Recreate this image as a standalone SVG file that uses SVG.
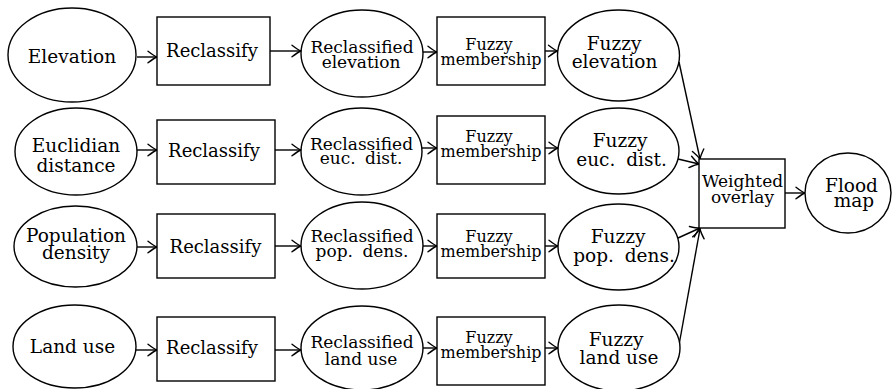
<svg xmlns="http://www.w3.org/2000/svg" width="893" height="389" viewBox="0 0 893 389">
<defs>
<style>
.n{fill:#fff;stroke:#000;stroke-width:1.4}
.t{font-family:'DejaVu Serif',serif;fill:#000;text-anchor:middle}
.b{font-size:18.5px}
.r{font-size:18px}
.m{font-size:17px}
.s{font-size:16px}
.e{stroke:#000;stroke-width:1.4;fill:none;marker-end:url(#ah)}
</style>
<marker id="ah" markerUnits="userSpaceOnUse" viewBox="-10 -7 12 14" markerWidth="12" markerHeight="14" refX="0" refY="0" orient="auto" overflow="visible">
<path d="M -9 -5.8 Q -3 -1.2 0 0 Q -3 1.2 -9 5.8" fill="none" stroke="#000" stroke-width="1.4" stroke-linecap="round"/>
</marker>
</defs>
<rect width="893" height="389" fill="#fff"/>

<g id="connectors">
<line class="e" x1="137" y1="57" x2="157" y2="57"/>
<line class="e" x1="270" y1="51" x2="301" y2="51"/>
<line class="e" x1="423" y1="52" x2="437" y2="52"/>
<line class="e" x1="545" y1="51" x2="557.5" y2="51"/>

<line class="e" x1="137" y1="150" x2="157" y2="150"/>
<line class="e" x1="275" y1="150" x2="301" y2="150"/>
<line class="e" x1="422" y1="148" x2="437" y2="148"/>
<line class="e" x1="545" y1="148" x2="558" y2="148"/>

<line class="e" x1="137" y1="247" x2="157" y2="247"/>
<line class="e" x1="275" y1="246" x2="301" y2="246"/>
<line class="e" x1="423" y1="246" x2="437" y2="246"/>
<line class="e" x1="545" y1="246" x2="558" y2="246"/>

<line class="e" x1="136" y1="350" x2="157" y2="350"/>
<line class="e" x1="275" y1="350" x2="301" y2="350"/>
<line class="e" x1="423" y1="348" x2="437" y2="348"/>
<line class="e" x1="545" y1="348" x2="558" y2="348"/>

<line class="e" x1="679" y1="62" x2="700" y2="159"/>
<line class="e" x1="678" y1="159" x2="699" y2="164"/>
<line class="e" x1="678" y1="238" x2="700" y2="228"/>
<line class="e" x1="679" y1="345" x2="700" y2="229"/>
<line class="e" x1="785" y1="193" x2="805" y2="193"/>
</g>

<g id="elevation"><ellipse class="n" cx="72" cy="55" rx="64" ry="47"/><text class="t b" x="72" y="63">Elevation</text></g>
<g id="reclassify1"><rect class="n" x="157" y="17" width="113" height="68"/><text class="t r" x="212" y="57">Reclassify</text></g>
<g id="reclassified-elevation"><ellipse class="n" cx="362" cy="53.5" rx="61" ry="43.5"/><text class="t m" x="362" y="53">Reclassified</text><text class="t m" x="361" y="68">elevation</text></g>
<g id="fuzzy-membership1"><rect class="n" x="437" y="17" width="108" height="68"/><text class="t s" x="489" y="50">Fuzzy</text><text class="t s" x="491" y="65">membership</text></g>
<g id="fuzzy-elevation"><ellipse class="n" cx="618.5" cy="55.5" rx="61" ry="45.5"/><text class="t b" x="614" y="50">Fuzzy</text><text class="t b" x="614.5" y="68">elevation</text></g>

<g id="euclidian-distance"><ellipse class="n" cx="76" cy="151.5" rx="61" ry="43.5"/><text class="t b" x="76" y="152">Euclidian</text><text class="t b" x="76" y="172">distance</text></g>
<g id="reclassify2"><rect class="n" x="157" y="120" width="118" height="64"/><text class="t r" x="214" y="157">Reclassify</text></g>
<g id="reclassified-euc"><ellipse class="n" cx="361.5" cy="151.5" rx="60.5" ry="43.5"/><text class="t m" x="361.5" y="150">Reclassified</text><text class="t m" x="361" y="164" word-spacing="4">euc. dist.</text></g>
<g id="fuzzy-membership2"><rect class="n" x="437" y="116" width="108" height="68"/><text class="t s" x="489" y="142">Fuzzy</text><text class="t s" x="491" y="157">membership</text></g>
<g id="fuzzy-euc"><ellipse class="n" cx="618.5" cy="151" rx="60.5" ry="43"/><text class="t b" x="620" y="147">Fuzzy</text><text class="t b" x="621.5" y="166" word-spacing="5">euc. dist.</text></g>

<g id="population-density"><ellipse class="n" cx="75.5" cy="246.5" rx="61.5" ry="40.5"/><text class="t b" x="76" y="242">Population</text><text class="t b" x="76" y="259">density</text></g>
<g id="reclassify3"><rect class="n" x="157" y="214" width="118" height="64"/><text class="t r" x="215.5" y="253">Reclassify</text></g>
<g id="reclassified-pop"><ellipse class="n" cx="362" cy="245.5" rx="61" ry="43.5"/><text class="t m" x="362" y="242">Reclassified</text><text class="t m" x="362" y="257" word-spacing="4">pop. dens.</text></g>
<g id="fuzzy-membership3"><rect class="n" x="437" y="214" width="108" height="64"/><text class="t s" x="489" y="242">Fuzzy</text><text class="t s" x="491" y="257">membership</text></g>
<g id="fuzzy-pop"><ellipse class="n" cx="618.5" cy="247" rx="60.5" ry="43"/><text class="t b" x="618" y="243">Fuzzy</text><text class="t b" x="624" y="262" word-spacing="5">pop. dens.</text></g>

<g id="land-use"><ellipse class="n" cx="74.5" cy="346.5" rx="61.5" ry="41.5"/><text class="t b" x="72.5" y="353">Land use</text></g>
<g id="reclassify4"><rect class="n" x="157" y="317" width="118" height="64"/><text class="t r" x="212" y="354">Reclassify</text></g>
<g id="reclassified-land"><ellipse class="n" cx="362" cy="348" rx="61" ry="42"/><text class="t m" x="362" y="348">Reclassified</text><text class="t m" x="361" y="365">land use</text></g>
<g id="fuzzy-membership4"><rect class="n" x="437" y="317" width="108" height="68"/><text class="t s" x="489" y="343">Fuzzy</text><text class="t s" x="491" y="358">membership</text></g>
<g id="fuzzy-land"><ellipse class="n" cx="619" cy="348" rx="61" ry="43"/><text class="t b" x="616" y="346">Fuzzy</text><text class="t b" x="619" y="364">land use</text></g>

<g id="weighted-overlay"><rect class="n" x="699" y="159" width="86" height="69"/><text class="t m" x="742.5" y="187">Weighted</text><text class="t m" x="742.5" y="203">overlay</text></g>
<g id="flood-map"><ellipse class="n" cx="848" cy="193" rx="43" ry="40"/><text class="t b" x="851.5" y="192">Flood</text><text class="t b" x="854" y="207">map</text></g>
</svg>
